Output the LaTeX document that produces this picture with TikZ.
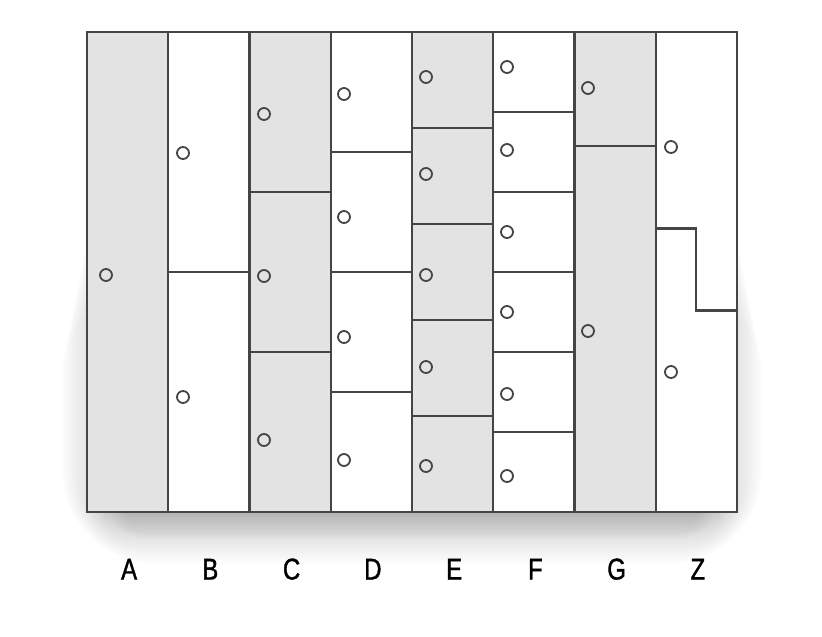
\documentclass[tikz,border=0pt]{standalone}
\usepackage{fontspec}
\newfontfamily\lblfont[FakeStretch=0.8, FakeBold=1.2]{Liberation Sans}
\definecolor{lineGray}{HTML}{454545}
\definecolor{cellGray}{HTML}{E3E3E3}
\begin{document}
\begin{tikzpicture}[x=1pt, y=-1pt,
  grid/.style={draw=lineGray, line width=2.1pt},
  hole/.style={draw=lineGray, line width=1.8pt},
  lbl/.style={font=\lblfont\fontsize{30}{30}\selectfont, text=black, inner sep=0pt, anchor=base}]
  \useasboundingbox (0,0) rectangle (822,637);
  \def\xo{87} \def\colw{81.25} \def\ytop{32} \def\ybot{512} \def\hgt{480}
  % soft shadow under the block
  \foreach \i in {1,...,24}
    \fill[black, opacity=0.009, rounded corners={\i*4pt}]
      ({\xo+20-\i*1.9},{140+\i*6}) rectangle ({737-20+\i*1.9},{\ybot+2+\i*2.1});
  \foreach \i in {1,...,12}
    \fill[black, opacity=0.012, rounded corners={\i*4pt}]
      ({\xo+40-\i*2},{\ybot-30}) rectangle ({737-40+\i*2},{\ybot+2+\i*2.2});
  \fill[white] (\xo,\ytop) rectangle (737,\ybot);
  % shaded columns A, C, E, G
  \foreach \c in {0,2,4,6}
    \fill[cellGray] ({\xo+\c*\colw},\ytop) rectangle ++(\colw,\hgt);
  % equal splits: B halves ... F sixths
  \foreach \c/\n in {1/2,2/3,3/4,4/5,5/6} {
    \pgfmathtruncatemacro\m{\n-1}
    \foreach \k in {1,...,\m}
      \draw[grid] ({\xo+\c*\colw},{\ytop+\k*\hgt/\n}) -- ++(\colw,0);
  }
  \draw[grid] ({\xo+6*\colw},146) -- ++(\colw,0);
  \draw[grid] ({\xo+7*\colw},228.5) -- (696,228.5) -- (696,310.5) -- (737,310.5);
  \foreach \c in {1,...,7}
    \draw[grid] ({\xo+\c*\colw},\ytop) -- ++(0,\hgt);
  \draw[grid] (\xo,\ytop) rectangle (737,\ybot);
  % points
  \foreach \p in {(106,275), (183,153), (183,397),
      (264,114), (264,276), (264,440),
      (344,94), (344,217), (344,337), (344,460),
      (426,77), (426,174), (426,275), (426,367), (426,466),
      (507,67), (507,150), (507,232), (507,312), (507,394), (507,476),
      (588,88), (588,331), (671,147), (671,372)}
    \draw[hole] \p circle (6);
  % column letters
  \foreach \l [count=\c from 0] in {A,B,C,D,E,F,G,Z}
    \node[lbl] (col\l) at ({\xo+(\c+0.5)*\colw+1.5},579.5) {\l};
\end{tikzpicture}
\end{document}
